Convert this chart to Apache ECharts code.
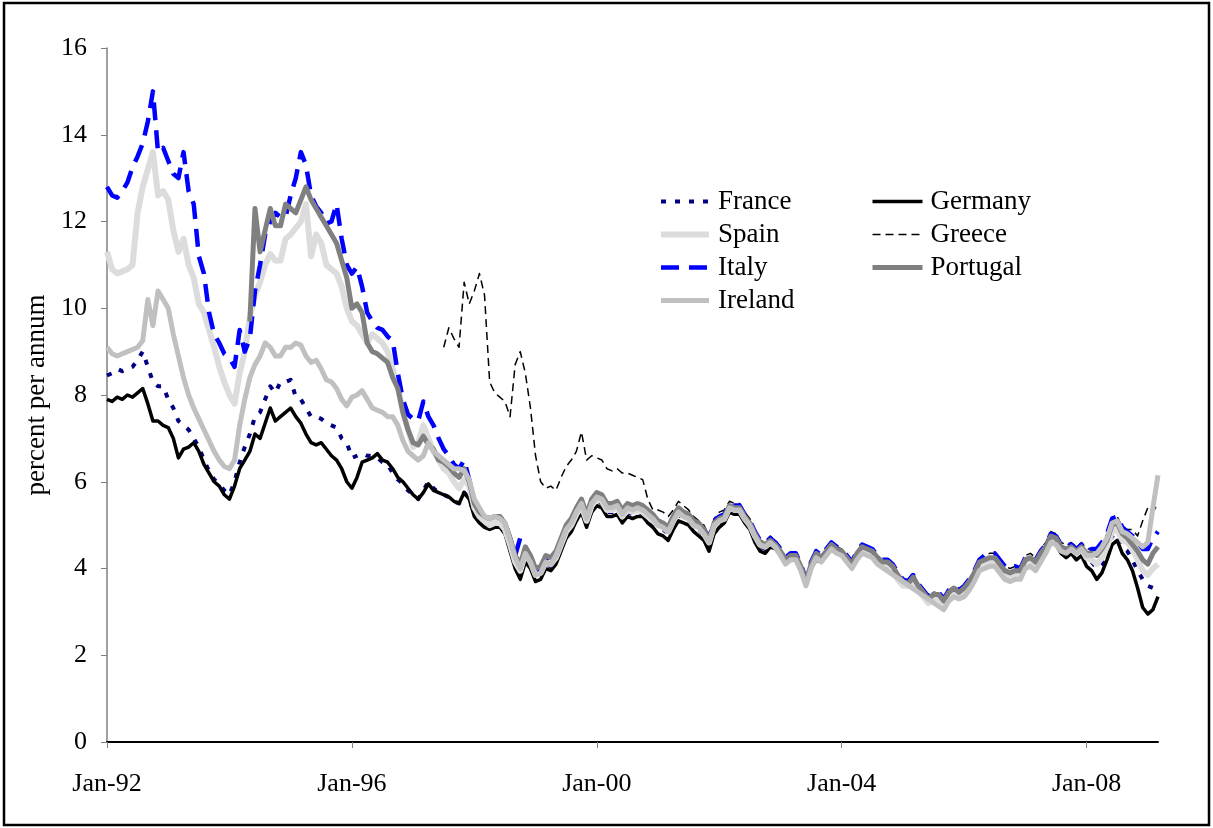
<!DOCTYPE html>
<html>
<head>
<meta charset="utf-8">
<script src="https://cdn.jsdelivr.net/npm/echarts@6/dist/echarts.min.js"></script>
<style>
html,body{margin:0;padding:0;background:#fff;}
#chart{width:1213px;height:828px;}
</style>
</head>
<body>
<div id="chart"></div>
<script>
// Monthly categories Jan-92 .. Mar-09
const MONTHS = ['Jan','Feb','Mar','Apr','May','Jun','Jul','Aug','Sep','Oct','Nov','Dec'];
const START_YEAR = 1992;
const N_MONTHS = 207;
const categories = [];
for (let i = 0; i < N_MONTHS; i++) {
  const y = START_YEAR + Math.floor(i / 12);
  categories.push(MONTHS[i % 12] + '-' + String(y).slice(2));
}
const yTicks = [0, 2, 4, 6, 8, 10, 12, 14, 16];

const france = [
  8.45, 8.5, 8.6, 8.55, 8.6, 8.65, 8.8, 9.0, 8.65, 8.3, 8.2, 8.2,
  7.9, 7.7, 7.4, 7.3, 7.2, 7.0, 6.8, 6.5, 6.25, 6.05, 5.95, 5.8,
  5.7, 6.0, 6.45, 6.8, 7.1, 7.5, 7.6, 7.9, 8.2, 8.05, 8.3, 8.3,
  8.35, 7.95, 7.9, 7.7, 7.5, 7.5, 7.45, 7.35, 7.3, 7.25, 7.0, 6.9,
  6.55, 6.6, 6.65, 6.6, 6.6, 6.55, 6.45, 6.4, 6.2, 6.05, 5.95, 5.8,
  5.7, 5.6, 5.8, 6.0, 5.85, 5.75, 5.7, 5.65, 5.55, 5.5, 5.75, 5.6,
  5.25, 5.1, 5.0, 4.95, 5.0, 5.0, 4.85, 4.5, 4.1, 3.9, 4.25, 4.1,
  3.8, 3.85, 4.1, 4.05, 4.2, 4.5, 4.8, 4.95, 5.2, 5.4, 5.05, 5.4,
  5.55, 5.5, 5.3, 5.3, 5.35, 5.15, 5.3, 5.25, 5.3, 5.25, 5.15, 5.05,
  4.95, 4.9, 4.8, 5.05, 5.25, 5.15, 5.1, 4.95, 4.9, 4.75, 4.55, 4.95,
  5.05, 5.1, 5.35, 5.3, 5.3, 5.1, 4.95, 4.7, 4.5, 4.45, 4.6, 4.5,
  4.4, 4.2, 4.3, 4.25, 4.0, 3.65, 4.05, 4.3, 4.2, 4.35, 4.5, 4.4,
  4.35, 4.2, 4.05, 4.3, 4.45, 4.4, 4.35, 4.2, 4.1, 4.1, 4.0, 3.8,
  3.65, 3.65, 3.8, 3.55, 3.4, 3.25, 3.35, 3.35, 3.2, 3.4, 3.5, 3.4,
  3.45, 3.6, 3.8, 4.05, 4.1, 4.15, 4.15, 4.0, 3.85, 3.8, 3.85, 3.85,
  4.1, 4.15, 4.05, 4.25, 4.4, 4.65, 4.6, 4.4, 4.35, 4.45, 4.3, 4.4,
  4.2, 4.15, 4.0, 4.1, 4.4, 4.75, 4.8, 4.5, 4.4, 4.2, 3.95, 3.75, 3.6, 3.55, 3.7
];

const germany = [
  7.9, 7.85, 7.95, 7.9, 8.0, 7.95, 8.05, 8.15, 7.8, 7.4, 7.4, 7.3,
  7.25, 7.0, 6.55, 6.75, 6.8, 6.9, 6.7, 6.4, 6.2, 6.0, 5.9, 5.7,
  5.6, 5.9, 6.3, 6.5, 6.7, 7.1, 7.0, 7.35, 7.7, 7.4, 7.5, 7.6,
  7.7, 7.5, 7.35, 7.1, 6.9, 6.85, 6.9, 6.75, 6.6, 6.5, 6.3, 6.0,
  5.85, 6.1, 6.45, 6.5, 6.55, 6.65, 6.5, 6.45, 6.3, 6.1, 6.0, 5.85,
  5.7, 5.6, 5.75, 5.95, 5.8, 5.75, 5.7, 5.65, 5.55, 5.5, 5.75, 5.6,
  5.2, 5.05, 4.95, 4.9, 4.95, 4.95, 4.8, 4.4, 4.0, 3.75, 4.15, 4.0,
  3.7, 3.75, 4.0, 3.95, 4.1, 4.4, 4.7, 4.85, 5.1, 5.3, 4.95, 5.3,
  5.45, 5.4, 5.2, 5.2, 5.25, 5.05, 5.2, 5.15, 5.2, 5.2, 5.05, 4.95,
  4.8, 4.75, 4.65, 4.9, 5.1, 5.05, 5.0, 4.85, 4.75, 4.65, 4.4, 4.8,
  4.95, 5.05, 5.3, 5.25, 5.25, 5.05, 4.9, 4.6, 4.4, 4.35, 4.5, 4.45,
  4.3, 4.1, 4.25, 4.2, 3.95, 3.6, 4.0, 4.2, 4.15, 4.3, 4.45, 4.35,
  4.3, 4.15, 4.0, 4.25, 4.4, 4.35, 4.3, 4.15, 4.05, 4.05, 3.95, 3.75,
  3.6, 3.6, 3.75, 3.5, 3.35, 3.2, 3.3, 3.3, 3.15, 3.35, 3.45, 3.35,
  3.4, 3.55, 3.75, 4.0, 4.05, 4.1, 4.1, 3.95, 3.8, 3.75, 3.8, 3.8,
  4.05, 4.1, 4.0, 4.2, 4.35, 4.6, 4.55, 4.35, 4.25, 4.35, 4.2, 4.3,
  4.05, 3.95, 3.75, 3.9, 4.2, 4.55, 4.65, 4.35, 4.2, 3.95, 3.55, 3.1, 2.95, 3.05, 3.35
];

const spain = [
  11.3, 10.9, 10.8, 10.85, 10.9, 11.0, 12.2, 12.8, 13.2, 13.6, 12.6, 12.7,
  12.5, 11.8, 11.3, 11.6, 11.0, 10.7, 10.1, 9.9, 9.5, 9.1, 8.65, 8.3,
  8.0, 7.8, 8.5, 9.0, 9.8, 10.3, 10.6, 11.0, 11.25, 11.1, 11.1, 11.6,
  11.7, 11.85, 12.0, 12.4, 11.2, 11.7, 11.5, 11.0, 10.9, 10.8, 10.5, 10.0,
  9.7, 9.6, 9.4, 9.2, 9.4, 9.3, 9.2, 9.0, 8.6, 8.2, 7.6, 7.2,
  6.8, 6.9, 7.3, 7.0, 6.7, 6.5, 6.3, 6.2, 6.0, 5.85, 6.05, 5.9,
  5.4, 5.2, 5.1, 5.0, 5.05, 5.05, 4.9, 4.55, 4.15, 3.95, 4.35, 4.15,
  3.85, 3.9, 4.15, 4.1, 4.25, 4.55, 4.85, 5.0, 5.25, 5.45, 5.1, 5.45,
  5.6, 5.55, 5.35, 5.35, 5.4, 5.2, 5.35, 5.3, 5.35, 5.3, 5.2, 5.1,
  5.0, 4.95, 4.85, 5.1, 5.3, 5.2, 5.15, 5.0, 4.95, 4.8, 4.6, 5.0,
  5.1, 5.15, 5.4, 5.35, 5.35, 5.15, 5.0, 4.75, 4.55, 4.5, 4.6, 4.5,
  4.35, 4.15, 4.25, 4.25, 4.0, 3.65, 4.05, 4.3, 4.2, 4.35, 4.5, 4.4,
  4.35, 4.2, 4.05, 4.3, 4.45, 4.4, 4.35, 4.2, 4.1, 4.1, 3.95, 3.75,
  3.6, 3.6, 3.75, 3.5, 3.35, 3.2, 3.3, 3.3, 3.15, 3.35, 3.45, 3.35,
  3.45, 3.6, 3.8, 4.05, 4.1, 4.15, 4.15, 4.0, 3.85, 3.8, 3.85, 3.85,
  4.1, 4.15, 4.05, 4.25, 4.45, 4.7, 4.65, 4.45, 4.4, 4.45, 4.35, 4.45,
  4.25, 4.2, 4.1, 4.25, 4.5, 4.85, 4.9, 4.65, 4.6, 4.45, 4.2, 3.95, 3.85, 4.0, 4.1
];

const greece = [
  null, null, null, null, null, null, null, null, null, null, null, null,
  null, null, null, null, null, null, null, null, null, null, null, null,
  null, null, null, null, null, null, null, null, null, null, null, null,
  null, null, null, null, null, null, null, null, null, null, null, null,
  null, null, null, null, null, null, null, null, null, null, null, null,
  null, null, null, null, null, null, 9.1, 9.55, 9.3, 9.1, 10.6, 10.1,
  10.4, 10.8, 10.3, 8.3, 8.05, 7.95, 7.85, 7.5, 8.7, 9.0, 8.5, 7.7,
  6.6, 6.0, 5.85, 5.9, 5.8, 6.1, 6.35, 6.5, 6.7, 7.15, 6.5, 6.6,
  6.55, 6.5, 6.3, 6.25, 6.3, 6.2, 6.2, 6.15, 6.1, 6.05, 5.6, 5.35,
  5.35, 5.3, 5.2, 5.35, 5.55, 5.45, 5.35, 5.2, 5.1, 5.0, 4.75, 5.15,
  5.3, 5.35, 5.55, 5.5, 5.5, 5.3, 5.15, 4.85, 4.65, 4.6, 4.75, 4.65,
  4.5, 4.25, 4.35, 4.35, 4.1, 3.75, 4.15, 4.4, 4.3, 4.45, 4.6, 4.5,
  4.45, 4.3, 4.15, 4.4, 4.55, 4.5, 4.45, 4.3, 4.2, 4.2, 4.1, 3.9,
  3.75, 3.75, 3.9, 3.65, 3.5, 3.35, 3.45, 3.45, 3.3, 3.5, 3.6, 3.5,
  3.6, 3.75, 3.95, 4.2, 4.3, 4.35, 4.35, 4.2, 4.05, 4.0, 4.05, 4.05,
  4.3, 4.35, 4.25, 4.45, 4.6, 4.85, 4.8, 4.6, 4.55, 4.6, 4.5, 4.6,
  4.45, 4.45, 4.4, 4.55, 4.8, 5.15, 5.2, 4.95, 4.9, 4.9, 4.75, 5.1, 5.4, 5.3, 5.5
];

const italy = [
  12.8, 12.6, 12.55, 12.7, 12.9, 13.25, 13.5, 13.8, 14.3, 15.0, 13.6, 13.7,
  13.4, 13.1, 13.0, 13.6, 12.7, 12.4, 11.2, 10.8, 9.9, 9.4, 9.2, 8.95,
  8.85, 8.65, 9.5, 9.0, 9.3, 10.4, 11.0, 11.7, 12.0, 12.2, 12.1, 12.1,
  12.6, 13.0, 13.6, 13.3, 12.6, 12.35, 12.2, 11.95, 12.0, 12.4, 11.6, 11.0,
  10.8, 10.95, 10.5, 9.9, 9.7, 9.55, 9.5, 9.35, 9.25, 8.5, 7.9, 7.55,
  7.45, 7.4, 7.85, 7.5, 7.3, 7.0, 6.75, 6.6, 6.4, 6.3, 6.5, 6.05,
  5.5, 5.35, 5.2, 5.15, 5.2, 5.2, 5.05, 4.7, 4.3, 4.7, 4.5, 4.25,
  3.95, 3.95, 4.2, 4.15, 4.3, 4.6, 4.95, 5.1, 5.35, 5.55, 5.2, 5.55,
  5.7, 5.65, 5.45, 5.45, 5.5, 5.3, 5.45, 5.4, 5.45, 5.4, 5.3, 5.2,
  5.1, 5.05, 4.95, 5.2, 5.4, 5.3, 5.25, 5.1, 5.05, 4.9, 4.7, 5.1,
  5.2, 5.25, 5.5, 5.45, 5.45, 5.25, 5.1, 4.85, 4.65, 4.6, 4.7, 4.6,
  4.45, 4.25, 4.35, 4.35, 4.1, 3.75, 4.15, 4.4, 4.3, 4.45, 4.6, 4.5,
  4.45, 4.3, 4.15, 4.4, 4.55, 4.5, 4.45, 4.3, 4.2, 4.2, 4.1, 3.9,
  3.75, 3.7, 3.85, 3.65, 3.5, 3.35, 3.45, 3.45, 3.3, 3.5, 3.6, 3.5,
  3.6, 3.75, 3.95, 4.2, 4.3, 4.35, 4.35, 4.2, 4.05, 4.0, 4.05, 4.0,
  4.25, 4.3, 4.2, 4.4, 4.55, 4.8, 4.75, 4.55, 4.5, 4.55, 4.45, 4.55,
  4.4, 4.45, 4.45, 4.6, 4.8, 5.15, 5.2, 4.95, 4.85, 4.75, 4.6, 4.45, 4.45, 4.7, 4.85
];

const portugal = [
  null, null, null, null, null, null, null, null, null, null, null, null,
  null, null, null, null, null, null, null, null, null, null, null, null,
  null, null, null, null, 9.7, 12.3, 11.3, 11.8, 12.3, 11.9, 11.9, 12.4,
  12.3, 12.2, 12.5, 12.8, 12.5, 12.3, 12.1, 11.9, 11.7, 11.5, 11.1, 10.7,
  10.0, 10.1, 9.9, 9.2, 9.0, 8.95, 8.85, 8.75, 8.4, 8.15, 7.6, 7.2,
  6.9, 6.85, 7.05, 6.85, 6.75, 6.5, 6.45, 6.35, 6.2, 6.1, 6.3, 6.0,
  5.5, 5.3, 5.2, 5.15, 5.2, 5.2, 5.05, 4.7, 4.3, 4.1, 4.5, 4.3,
  4.0, 4.05, 4.3, 4.25, 4.4, 4.7, 5.0, 5.15, 5.4, 5.6, 5.25, 5.6,
  5.75, 5.7, 5.5, 5.5, 5.55, 5.35, 5.5, 5.45, 5.5, 5.45, 5.35, 5.25,
  5.1, 5.05, 4.95, 5.2, 5.4, 5.3, 5.25, 5.1, 5.05, 4.9, 4.65, 5.05,
  5.15, 5.2, 5.45, 5.4, 5.4, 5.2, 5.05, 4.8, 4.6, 4.55, 4.65, 4.55,
  4.4, 4.2, 4.3, 4.3, 4.05, 3.7, 4.1, 4.35, 4.25, 4.4, 4.55, 4.45,
  4.4, 4.25, 4.1, 4.35, 4.5, 4.45, 4.4, 4.25, 4.15, 4.15, 4.05, 3.85,
  3.7, 3.65, 3.8, 3.6, 3.45, 3.3, 3.4, 3.4, 3.25, 3.45, 3.55, 3.45,
  3.55, 3.7, 3.9, 4.15, 4.2, 4.25, 4.25, 4.1, 3.95, 3.9, 3.95, 3.95,
  4.2, 4.25, 4.15, 4.35, 4.5, 4.75, 4.7, 4.5, 4.45, 4.5, 4.4, 4.5,
  4.35, 4.35, 4.3, 4.45, 4.65, 5.0, 5.05, 4.8, 4.7, 4.55, 4.4, 4.2, 4.1, 4.35, 4.5
];

const ireland = [
  9.1, 8.95, 8.9, 8.95, 9.0, 9.05, 9.1, 9.25, 10.2, 9.6, 10.4, 10.2,
  10.0, 9.4, 8.9, 8.4, 8.0, 7.7, 7.45, 7.2, 6.95, 6.7, 6.5, 6.35,
  6.3, 6.5, 7.3, 7.9, 8.4, 8.7, 8.9, 9.2, 9.1, 8.9, 8.9, 9.1,
  9.1, 9.2, 9.15, 8.9, 8.75, 8.8, 8.6, 8.35, 8.3, 8.15, 7.9, 7.75,
  7.95, 8.0, 8.1, 7.9, 7.7, 7.65, 7.6, 7.5, 7.5, 7.3, 6.95, 6.7,
  6.6, 6.5, 6.6, 6.9, 6.7, 6.6, 6.5, 6.4, 6.3, 6.3, 6.25, 6.05,
  5.6, 5.4, 5.2, 5.15, 5.2, 5.15, 5.05, 4.65, 4.25, 4.0, 4.35, 4.15,
  3.85, 3.9, 4.15, 4.1, 4.3, 4.6, 4.9, 5.05, 5.3, 5.5, 5.15, 5.5,
  5.65, 5.6, 5.4, 5.4, 5.45, 5.25, 5.4, 5.35, 5.4, 5.35, 5.25, 5.15,
  5.0, 4.95, 4.85, 5.1, 5.3, 5.2, 5.15, 5.0, 4.95, 4.8, 4.6, 5.0,
  5.1, 5.15, 5.4, 5.35, 5.35, 5.15, 5.0, 4.75, 4.55, 4.5, 4.6, 4.5,
  4.3, 4.1, 4.2, 4.2, 3.95, 3.6, 4.0, 4.25, 4.15, 4.3, 4.45, 4.35,
  4.3, 4.15, 4.0, 4.2, 4.35, 4.3, 4.25, 4.1, null, null, null, null,
  null, null, null, null, null, null, null, null, 3.05, 3.25, 3.35, 3.3,
  3.35, 3.5, 3.7, 3.95, 4.0, 4.05, 4.05, 3.9, 3.75, 3.7, 3.75, 3.75,
  4.0, 4.05, 3.95, 4.15, 4.35, 4.6, 4.55, 4.4, 4.35, 4.45, 4.35, 4.45,
  4.3, 4.3, 4.35, 4.5, 4.7, 5.05, 5.1, 4.85, 4.8, 4.7, 4.6, 4.5, 4.6, 5.4, 6.15
];

const FONT = '"Liberation Serif", "Times New Roman", serif';

function lineSeries(name, data, color, width, type, extra) {
  return Object.assign({
    name: name,
    type: 'line',
    data: data,
    symbol: 'none',
    showSymbol: false,
    smooth: false,
    lineStyle: { color: color, width: width, type: type, cap: 'butt', join: 'round' },
    itemStyle: { color: color },
    emphasis: { disabled: true }
  }, extra || {});
}

const legendCommon = {
  orient: 'vertical',
  top: 188,
  padding: 0,
  itemHeight: 14,
  itemGap: 6,
  selectedMode: false,
  lineStyle: { width: 'inherit' },
  itemStyle: { opacity: 0 }
};

const chart = echarts.init(document.getElementById('chart'), null, { renderer: 'canvas' });
chart.setOption({
  animation: false,
  backgroundColor: '#ffffff',
  textStyle: { fontFamily: FONT },
  grid: { left: 107, right: 55, top: 48, bottom: 86, containLabel: false },
  graphic: [{
    type: 'rect',
    shape: { x: 4, y: 3, width: 1205, height: 822 },
    style: { fill: 'none', stroke: '#000', lineWidth: 2.5 },
    silent: true,
    z: 100
  }],
  legend: [
    Object.assign({}, legendCommon, {
      data: ['France', 'Spain', 'Italy', 'Ireland'],
      left: 658,
      itemWidth: 48,
      textStyle: { fontFamily: FONT, fontSize: 27, color: '#000', lineHeight: 26, padding: [0, 0, 0, 4] }
    }),
    Object.assign({}, legendCommon, {
      data: ['Germany', 'Greece', 'Portugal'],
      left: 870,
      itemWidth: 50,
      textStyle: { fontFamily: FONT, fontSize: 27, color: '#000', lineHeight: 26, padding: [0, 0, 0, 3] }
    })
  ],
  xAxis: {
    type: 'category',
    data: categories,
    boundaryGap: false,
    axisLine: { show: true, lineStyle: { color: '#000', width: 2 } },
    axisTick: {
      show: true, length: 6,
      interval: function (i) { return i % 48 === 0; },
      lineStyle: { color: '#808080', width: 1 }
    },
    axisLabel: {
      interval: function (i) { return i % 48 === 0; },
      fontFamily: FONT, fontSize: 26, color: '#000', margin: 29
    },
    splitLine: { show: false }
  },
  yAxis: {
    type: 'value',
    min: yTicks[0],
    max: yTicks[yTicks.length - 1],
    interval: 2,
    name: 'percent per annum',
    nameLocation: 'middle',
    nameGap: 57,
    nameRotate: 90,
    nameTextStyle: { fontFamily: FONT, fontSize: 27, color: '#000' },
    axisLine: { show: true, lineStyle: { color: '#808080', width: 1.5 } },
    axisTick: { show: true, length: 6, inside: false, lineStyle: { color: '#808080', width: 1 } },
    axisLabel: { fontFamily: FONT, fontSize: 26, color: '#000', margin: 20 },
    splitLine: { show: false }
  },
  series: [
    lineSeries('France', france, '#000080', 4, [5, 9]),
    lineSeries('Germany', germany, '#000000', 3.5, 'solid'),
    lineSeries('Spain', spain, '#dcdcdc', 6, 'solid'),
    lineSeries('Greece', greece, '#000000', 1.5, [8, 5]),
    lineSeries('Italy', italy, '#0000ff', 4.5, [18, 10]),
    lineSeries('Portugal', portugal, '#808080', 5, 'solid'),
    lineSeries('Ireland', ireland, '#c0c0c0', 5, 'solid', { connectNulls: true })
  ]
});
</script>
</body>
</html>
